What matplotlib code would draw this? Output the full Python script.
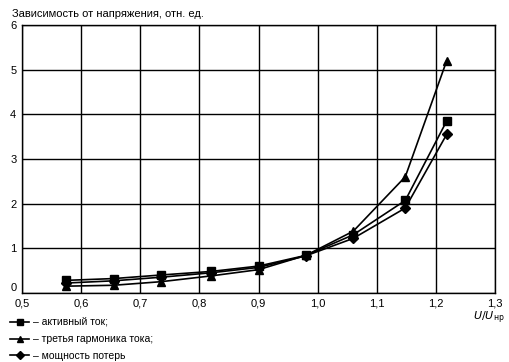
import matplotlib.pyplot as plt

plt.rcParams['font.family'] = ['Liberation Sans', 'DejaVu Sans']

# U/U_нр
u = [0.575, 0.655, 0.735, 0.82, 0.90, 0.98, 1.06, 1.148, 1.218]
active_current = [0.28, 0.32, 0.40, 0.48, 0.60, 0.84, 1.30, 2.07, 3.85]
third_harmonic = [0.15, 0.17, 0.25, 0.38, 0.52, 0.84, 1.38, 2.60, 5.20]
loss_power = [0.22, 0.27, 0.35, 0.45, 0.57, 0.83, 1.22, 1.90, 3.55]

series_labels = ['– активный ток;', '– третья гармоника тока;', '– мощность потерь']
markers = ['s', '^', 'D']

xticks = [0.5, 0.6, 0.7, 0.8, 0.9, 1.0, 1.1, 1.2, 1.3]
yticks = [0, 1, 2, 3, 4, 5, 6]

fig = plt.figure(figsize=(5.10, 3.62), dpi=100)
ax = fig.add_axes([0.043, 0.191, 0.928, 0.740])

handles = []
for vals, m, lab in zip([active_current, third_harmonic, loss_power], markers, series_labels):
    ms = 5 if m == 'D' else 6
    h, = ax.plot(u, vals, color='black', lw=1.2, marker=m, ms=ms, label=lab)
    handles.append(h)

ax.set_xlim(0.5, 1.3)
ax.set_ylim(0, 6)
ax.set_xticks(xticks)
ax.set_xticklabels([f'{t:.1f}'.replace('.', ',') for t in xticks])
ax.set_yticks(yticks)
ax.set_yticklabels([str(t) for t in yticks])
ax.grid(True, color='black', lw=1.0)
ax.tick_params(length=0, labelsize=8)
ax.tick_params(axis='x', pad=4)
ax.tick_params(axis='y', pad=4)
for s in ax.spines.values():
    s.set_linewidth(1.0)
# lift the "0" a little so it clears "0,5"
ax.get_yticklabels()[0].set_va('bottom')

fig.text(0.024, 0.962, 'Зависимость от напряжения, отн. ед.', fontsize=8, va='center')
fig.text(0.99, 0.122, r'$U/U_{\mathrm{нр}}$', fontsize=8, ha='right', va='center',
         style='italic')

fig.legend(handles=handles, loc='upper left', bbox_to_anchor=(0.02, 0.122),
           frameon=False, fontsize=7.5, handlelength=1.8, handletextpad=0.4,
           labelspacing=0.62, borderaxespad=0, borderpad=0, markerscale=0.8)

fig.savefig('out.png', dpi=100)
